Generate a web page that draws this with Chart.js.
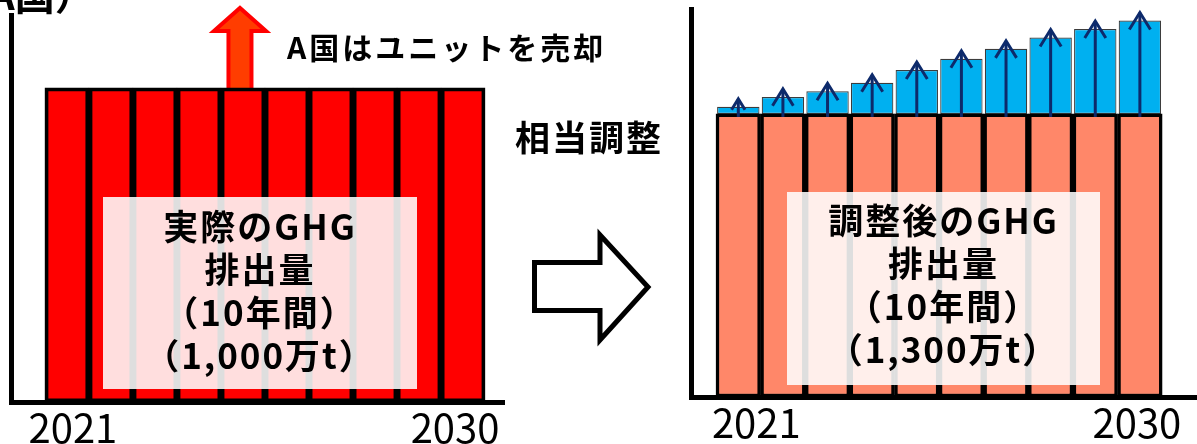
<!DOCTYPE html>
<html lang="ja">
<head>
<meta charset="utf-8">
<title>GHG排出量と相当調整</title>
<script src="https://cdn.jsdelivr.net/npm/chart.js@4.4.1/dist/chart.umd.min.js"></script>
<style>
  html, body { margin: 0; padding: 0; background: #fff; }
  body { width: 1197px; height: 444px; position: relative; overflow: hidden;
         font-family: "Noto Sans CJK JP", "Noto Sans", sans-serif; }
  canvas { position: absolute; top: 0; }
  #actualChart { left: 0; }
  #adjustedChart { left: 660px; }
  svg { position: absolute; left: 0; top: 0; }
  .note { position: absolute; font-weight: 700; color: #000; white-space: nowrap; }
  .box { position: absolute; box-sizing: border-box; background: rgba(255, 255, 255, 0.87);
         font-weight: 700; font-size: 35px; line-height: 43px; letter-spacing: 2px;
         text-align: center; color: #000; }
</style>
</head>
<body>
<canvas id="actualChart" width="540" height="444"></canvas>
<canvas id="adjustedChart" width="537" height="444"></canvas>

<svg width="1197" height="444">
  <polygon points="534.5,262.5 600,262.5 600,235 648,287 600,340 600,310.5 534.5,310.5"
           fill="#fff" stroke="#000" stroke-width="5" stroke-linejoin="miter"/>
</svg>

<div class="note" style="left:-51px; top:-27px; font-size:40px; line-height:40px;">（A国）</div>
<div class="note" style="left:287px; top:29px; font-size:30px; line-height:34px; letter-spacing:3px;">A国はユニットを売却</div>
<div class="note" style="left:515px; top:116px; font-size:35px; line-height:40px; letter-spacing:2px;">相当調整</div>

<div class="box" style="left:103px; top:197px; width:314px; height:192px; padding-top:6px;">
  <div>実際のGHG</div>
  <div>排出量</div>
  <div>（10年間）</div>
  <div>（1,000万t）</div>
</div>
<div class="box" style="left:787px; top:192px; width:313px; height:193px; padding-top:5px;">
  <div>調整後のGHG</div>
  <div>排出量</div>
  <div>（10年間）</div>
  <div>（1,300万t）</div>
</div>

<script>
// yearly emissions, 万t
const years = [2021, 2022, 2023, 2024, 2025, 2026, 2027, 2028, 2029, 2030];
const actualEmissions = [100, 100, 100, 100, 100, 100, 100, 100, 100, 100];
const baseEmissions = [100, 100, 100, 100, 100, 100, 100, 100, 100, 100];
const soldUnits = [2.5, 6, 8, 11, 15.5, 19.5, 23, 27, 30, 33];
const tickYears = [2021, 2030];

// only the first and last year are written under the axis
const yearLabels = {
  id: 'yearLabels',
  afterDraw(chart, args, opts) {
    const { ctx, chartArea, scales: { x } } = chart;
    ctx.save();
    ctx.font = '400 40px "Noto Sans CJK JP"';
    ctx.fillStyle = '#000';
    ctx.textAlign = 'center';
    ctx.textBaseline = 'alphabetic';
    tickYears.forEach((yr, i) => {
      ctx.fillText(String(yr), x.getPixelForValue(yr) + opts.shift[i], chartArea.bottom + 41);
    });
    ctx.restore();
  }
};

// red arrow rising out of the 2025 bar
const saleArrow = {
  id: 'saleArrow',
  beforeDatasetsDraw(chart) {
    const { ctx, scales: { x, y } } = chart;
    const cx = x.getPixelForValue(years[4]) - 3;
    const base = y.getPixelForValue(actualEmissions[4]) + 2;
    const tip = 8;
    const neck = tip + 23;
    ctx.save();
    ctx.beginPath();
    ctx.moveTo(cx - 11.5, base);
    ctx.lineTo(cx - 11.5, neck);
    ctx.lineTo(cx - 26, neck);
    ctx.lineTo(cx, tip);
    ctx.lineTo(cx + 26, neck);
    ctx.lineTo(cx + 11.5, neck);
    ctx.lineTo(cx + 11.5, base);
    ctx.closePath();
    ctx.fillStyle = '#ff3d00';
    ctx.fill();
    ctx.lineJoin = 'miter';
    ctx.lineWidth = 4;
    ctx.strokeStyle = '#ff0000';
    ctx.stroke();
    ctx.restore();
  }
};

// navy arrows through each added block
const adjustArrows = {
  id: 'adjustArrows',
  afterDatasetsDraw(chart) {
    const { ctx, scales: { y } } = chart;
    const meta = chart.getDatasetMeta(1);
    ctx.save();
    ctx.strokeStyle = '#0d2a6b';
    ctx.lineWidth = 3;
    ctx.lineJoin = 'miter';
    meta.data.forEach((bar, i) => {
      const cx = bar.x;
      const yBase = y.getPixelForValue(baseEmissions[i]) + 3;
      const yTip = bar.y - 8;
      const head = Math.min(17, (yBase - yTip) * 0.6);
      const half = head * 0.62;
      ctx.beginPath();
      ctx.moveTo(cx, yBase);
      ctx.lineTo(cx, yTip);
      ctx.stroke();
      ctx.beginPath();
      ctx.moveTo(cx - half, yTip + head);
      ctx.lineTo(cx, yTip);
      ctx.lineTo(cx + half, yTip + head);
      ctx.stroke();
    });
    ctx.restore();
  }
};

const axisLine = { color: '#000', width: 5 };
const hidden = { display: false };
const noGrid = { display: false, drawTicks: false };
const yearTicks = axis => { axis.ticks = years.map(v => ({ value: v })); };

new Chart(document.getElementById('actualChart'), {
  type: 'bar',
  data: {
    labels: years,
    datasets: [{
      label: '実際のGHG排出量',
      data: actualEmissions,
      backgroundColor: '#ff0000',
      borderColor: '#000',
      borderWidth: 3.8,
      borderSkipped: false,
      barPercentage: 1,
      categoryPercentage: 1
    }]
  },
  options: {
    responsive: false,
    animation: false,
    events: [],
    layout: { padding: { left: 11, top: 15, right: 36, bottom: 42 } },
    plugins: { legend: hidden, tooltip: { enabled: false }, yearLabels: { shift: [6, -8] } },
    scales: {
      x: { type: 'linear', offset: false, min: 2019.73, max: 2030.93, afterBuildTicks: yearTicks,
           ticks: hidden, grid: noGrid, border: axisLine },
      y: { min: 0, max: 123.2, ticks: hidden, grid: noGrid, border: axisLine }
    }
  },
  plugins: [saleArrow, yearLabels]
});

new Chart(document.getElementById('adjustedChart'), {
  type: 'bar',
  data: {
    labels: years,
    datasets: [{
      label: '実際のGHG排出量',
      data: baseEmissions,
      backgroundColor: '#ff8769',
      borderColor: '#000',
      borderWidth: 3.5,
      borderSkipped: false,
      barPercentage: 1,
      categoryPercentage: 1
    }, {
      label: '相当調整',
      data: soldUnits,
      backgroundColor: '#00b0f0',
      borderColor: '#3c3c3c',
      borderWidth: 1.2,
      borderSkipped: false,
      barPercentage: 0.95,
      categoryPercentage: 1
    }]
  },
  options: {
    responsive: false,
    animation: false,
    events: [],
    layout: { padding: { left: 31, top: 9.5, right: 0, bottom: 47 } },
    plugins: { legend: hidden, tooltip: { enabled: false }, yearLabels: { shift: [18, -3] } },
    scales: {
      x: { type: 'linear', offset: false, stacked: true, min: 2019.94, max: 2031.28, afterBuildTicks: yearTicks,
           ticks: hidden, grid: noGrid, border: axisLine },
      y: { stacked: true, min: 0, max: 136.9, ticks: hidden, grid: noGrid, border: axisLine }
    }
  },
  plugins: [adjustArrows, yearLabels]
});
</script>
</body>
</html>
